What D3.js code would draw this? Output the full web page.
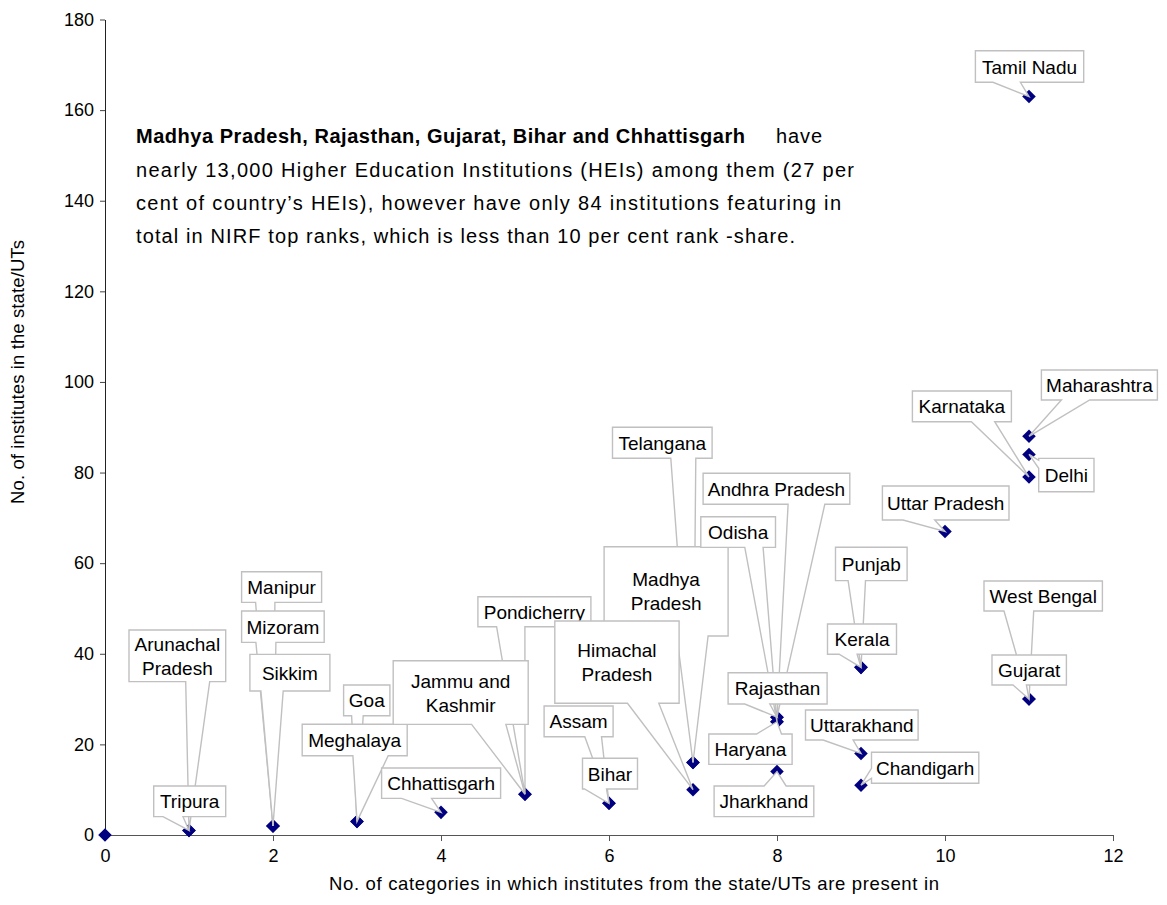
<!DOCTYPE html>
<html>
<head>
<meta charset="utf-8">
<script src="https://cdn.jsdelivr.net/npm/d3@7"></script>
<style>
  body { margin: 0; background: #fff; }
  svg { display: block; }
  text { font-family: "Liberation Sans", Arial, sans-serif; fill: #000; }
</style>
</head>
<body>
<svg id="chart"></svg>
<script>
// values
var states = ["", "Tripura", "Arunachal Pradesh", "Manipur", "Mizoram", "Sikkim", "Goa", "Meghalaya",
  "Chhattisgarh", "Pondicherry", "Jammu and Kashmir", "Assam", "Bihar", "Telangana", "Madhya Pradesh",
  "Himachal Pradesh", "Andhra Pradesh", "Odisha", "Rajasthan", "Haryana", "Jharkhand", "Punjab", "Kerala",
  "Uttarakhand", "Chandigarh", "Uttar Pradesh", "West Bengal", "Gujarat", "Karnataka", "Maharashtra",
  "Delhi", "Tamil Nadu"];
var categories = [0, 1, 1, 2, 2, 2, 3, 3,
  4, 5, 5, 6, 6, 7, 7,
  7, 8, 8, 8, 8, 8, 9, 9,
  9, 9, 10, 11, 11, 11, 11,
  11, 11];
var institutes = [0, 1, 1, 2, 2, 2, 3, 3,
  5, 9, 9, 7, 7, 16, 16,
  10, 26, 25, 26, 25, 14, 37, 37,
  18, 11, 67, 30, 30, 79, 88,
  84, 163];

var xTicks = [0, 2, 4, 6, 8, 10, 12];
var yTicks = [0, 20, 40, 60, 80, 100, 120, 140, 160, 180];

var xTitle = "No. of categories in which institutes from the state/UTs are present in";
var yTitle = "No. of institutes in the state/UTs";

var noteBold = "Madhya Pradesh, Rajasthan, Gujarat, Bihar and Chhattisgarh";
var noteAfterBold = "have";
var noteLines = [
  "nearly 13,000 Higher Education Institutions (HEIs) among them (27 per",
  "cent of country\u2019s HEIs), however have only 84 institutions featuring in",
  "total in NIRF top ranks, which is less than 10 per cent rank -share."
];

// callout boxes: offset from the point (px), size, side of the pointer, pointer base
var callouts = {
  "Arunachal Pradesh": [-60, -200.5, 96.7, 51.7, "bottom", 56.7, 80.7],
  "Tripura": [-35.3, -44.5, 72, 30.7, "bottom", 9.3, 29.3],
  "Manipur": [-31.4, -254.2, 80, 30.6, "bottom", 14, 33.3],
  "Mizoram": [-31.4, -214.9, 82.6, 31.3, "bottom", 14.3, 34.3],
  "Sikkim": [-23.1, -171.6, 80, 36.7, "bottom", 11, 33.3],
  "Goa": [-13.4, -136.4, 46.3, 30.7, "bottom", 8, 19.6],
  "Meghalaya": [-54.8, -97.1, 105, 31.4, "bottom", 50.7, 86],
  "Chhattisgarh": [-59.4, -44.3, 119, 30.3, "bottom", 20, 50],
  "Pondicherry": [-47.1, -197.5, 113, 30, "bottom", 18.7, 47],
  "Jammu and Kashmir": [-131.8, -133.5, 135, 63.6, "bottom", 78.4, 112.7],
  "Assam": [-64.9, -97.3, 69, 30.7, "bottom", 40.7, 57.4],
  "Bihar": [-26.5, -45, 55, 30.7, "bottom", 2, 24],
  "Telangana": [-80.5, -335.2, 99.6, 31, "bottom", 58.3, 83.3],
  "Madhya Pradesh": [-88.9, -215.8, 124, 89.3, "bottom", 72.7, 104],
  "Himachal Pradesh": [-138.2, -168.7, 124.3, 82.3, "bottom", 72.7, 104],
  "Andhra Pradesh": [-73.9, -243.9, 146.7, 31, "bottom", 85, 121.7],
  "Odisha": [-76.2, -205, 74.7, 30.6, "bottom", 44, 62.3],
  "Rajasthan": [-48.9, -44.5, 99, 31.3, "bottom", 16.7, 41.7],
  "Haryana": [-68.2, 12.3, 83.3, 30.3, "top", 47.7, 72.7],
  "Jharkhand": [-62.9, 14.4, 99.7, 30.7, "top", 50, 72],
  "Punjab": [-25.5, -120.1, 71.6, 33.4, "bottom", 12.6, 30],
  "Kerala": [-33.5, -43.4, 69, 30.3, "bottom", 11.6, 29.6],
  "Uttarakhand": [-55.5, -43.4, 112.6, 30, "bottom", 17.6, 47.6],
  "Chandigarh": [10.5, -32.9, 107.3, 31, "left", 16, 26],
  "Uttar Pradesh": [-62.6, -45.4, 126.6, 34, "bottom", 20.6, 52.3],
  "West Bengal": [-45, -118.1, 118.4, 30, "bottom", 20, 49.7],
  "Gujarat": [-37, -44.1, 74.4, 30, "bottom", 21, 34.4],
  "Karnataka": [-116.6, -86.1, 99, 30.7, "bottom", 59, 82.3],
  "Maharashtra": [12.4, -66.3, 116, 30, "bottom", 20, 48.3],
  "Delhi": [9.7, 3.9, 55.3, 33.4, "left", 2, 10],
  "Tamil Nadu": [-53.6, -45.8, 108.3, 31.6, "bottom", 17.6, 45]
};
var twoLine = {
  "Arunachal Pradesh": ["Arunachal", "Pradesh"],
  "Jammu and Kashmir": ["Jammu and", "Kashmir"],
  "Madhya Pradesh": ["Madhya", "Pradesh"],
  "Himachal Pradesh": ["Himachal", "Pradesh"]
};

const width = 1167, height = 905;
const svg = d3.select('#chart').attr('width', width).attr('height', height);

const x = d3.scaleLinear().domain([0, 12]).range([105, 1113]);
const y = d3.scaleLinear().domain([0, 180]).range([835, 19.5]);

// axes
const yAxis = svg.append('g')
  .attr('transform', 'translate(105,0)')
  .call(d3.axisLeft(y).tickValues(yTicks).tickSize(5).tickSizeOuter(0).tickPadding(6));
yAxis.select('.domain').attr('stroke', '#222');
yAxis.selectAll('.tick line').attr('stroke', '#444');
yAxis.selectAll('.tick text').attr('font-size', 18).attr('font-family', '"Liberation Sans", Arial, sans-serif');

const xAxis = svg.append('g')
  .attr('transform', 'translate(0,835)')
  .call(d3.axisBottom(x).tickValues(xTicks).tickSize(6).tickSizeOuter(0).tickPadding(8));
xAxis.select('.domain').attr('stroke', '#555');
xAxis.selectAll('.tick line').attr('stroke', '#555');
xAxis.selectAll('.tick text').attr('font-size', 18).attr('font-family', '"Liberation Sans", Arial, sans-serif');

svg.append('text')
  .attr('x', 634).attr('y', 890)
  .attr('text-anchor', 'middle')
  .attr('font-size', 18.5)
  .attr('textLength', 610).attr('lengthAdjust', 'spacing')
  .text(xTitle);

svg.append('text')
  .attr('transform', 'translate(24,372) rotate(-90)')
  .attr('text-anchor', 'middle')
  .attr('font-size', 18.5)
  .attr('textLength', 264).attr('lengthAdjust', 'spacing')
  .text(yTitle);

// note
const note = svg.append('g').attr('font-size', 20);
note.append('text')
  .attr('x', 136).attr('y', 143)
  .attr('font-family', 'Lato, sans-serif').attr('font-weight', 'bold')
  .attr('textLength', 609).attr('lengthAdjust', 'spacing')
  .text(noteBold);
note.append('text')
  .attr('x', 776).attr('y', 143)
  .attr('font-family', 'Lato, sans-serif')
  .attr('textLength', 46).attr('lengthAdjust', 'spacing')
  .text(noteAfterBold);
var noteWidths = [718, 705, 659];
note.selectAll('text.line')
  .data(noteLines)
  .enter().append('text')
    .attr('class', 'line')
    .attr('x', 136)
    .attr('y', (d, i) => 177 + i * 33)
    .attr('font-family', 'Lato, sans-serif')
    .attr('textLength', (d, i) => noteWidths[i])
    .attr('lengthAdjust', 'spacing')
    .text(d => d);

// points
var points = states.map((s, i) => ({ name: s, cx: categories[i], cy: institutes[i] }));
var pointByName = {};
points.forEach(p => { pointByName[p.name] = p; });

svg.append('g')
  .selectAll('path')
  .data(points)
  .enter().append('path')
    .attr('d', d3.symbol().type(d3.symbolSquare).size(92))
    .attr('transform', d => 'translate(' + x(d.cx) + ',' + y(d.cy) + ') rotate(45)')
    .attr('fill', '#000080');

function calloutPath(L, T, W, H, side, a, b, tx, ty) {
  if (side === 'bottom')
    return 'M' + L + ',' + T + 'H' + (L + W) + 'V' + (T + H) + 'H' + (L + b) + 'L' + tx + ',' + ty + 'L' + (L + a) + ',' + (T + H) + 'H' + L + 'Z';
  if (side === 'top')
    return 'M' + L + ',' + T + 'H' + (L + a) + 'L' + tx + ',' + ty + 'L' + (L + b) + ',' + T + 'H' + (L + W) + 'V' + (T + H) + 'H' + L + 'Z';
  return 'M' + L + ',' + T + 'H' + (L + W) + 'V' + (T + H) + 'H' + L + 'V' + (T + b) + 'L' + tx + ',' + ty + 'L' + L + ',' + (T + a) + 'Z';
}

// callouts, in stacking order
const calloutG = svg.append('g');
Object.keys(callouts).forEach(function(name) {
  var p = pointByName[name];
  var c = callouts[name];
  var tx = x(p.cx), ty = y(p.cy);
  var L = tx + c[0], T = ty + c[1], W = c[2], H = c[3];
  var g = calloutG.append('g');
  g.append('path')
    .attr('d', calloutPath(L, T, W, H, c[4], c[5], c[6], tx, ty))
    .attr('fill', '#fff')
    .attr('stroke', '#c0c0c0')
    .attr('stroke-width', 1.4)
    .attr('stroke-linejoin', 'miter');
  var lines = twoLine[name] || [name];
  var cy = T + H / 2;
  g.selectAll('text')
    .data(lines)
    .enter().append('text')
      .attr('x', L + W / 2)
      .attr('y', (d, i) => lines.length === 1 ? cy + 7 : cy + 7 + (i === 0 ? -12 : 12))
      .attr('text-anchor', 'middle')
      .attr('font-size', 19)
      .text(d => d);
});
</script>
</body>
</html>
